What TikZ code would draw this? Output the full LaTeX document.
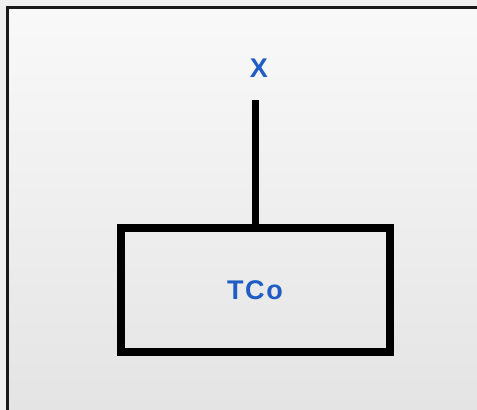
\documentclass[tikz,border=0pt]{standalone}
\usepackage{fontspec}
\setmainfont{Liberation Sans}
\definecolor{labelblue}{HTML}{1F5CC4}
\definecolor{paneltop}{HTML}{F9F9F9}
\definecolor{panelbottom}{HTML}{E4E4E4}
\begin{document}
\begin{tikzpicture}[x=1pt,y=-1pt,
  lbl/.style={text=labelblue,font=\bfseries\fontsize{27}{30}\selectfont\addfontfeature{LetterSpace=6},inner sep=0pt},
  block/.style={draw=black,line width=8pt,fill=none},
  wire/.style={draw=black,line width=7pt}]
  \useasboundingbox (0,0) rectangle (477,410);
  \fill[white!94!black] (0,0) rectangle (477,410);
  % panel with soft vertical gradient
  \shade[top color=paneltop,bottom color=panelbottom] (7,7) rectangle (477,410);
  \draw[line width=3pt,color=black!90] (7,410) -- (7,7) -- (477,7);
  % block and its input wire
  \draw[block] (121,227.5) rectangle (389.5,351.5);
  \node[lbl] (tco) at (255,290) {TCo};
  \node[lbl] (x) at (259,68) {X};
  \coordinate (wiretop) at (255.5,100);
  \coordinate (wirebot) at (255.5,227.5);
  \draw[wire] (wiretop) -- (wirebot);
\end{tikzpicture}
\end{document}
